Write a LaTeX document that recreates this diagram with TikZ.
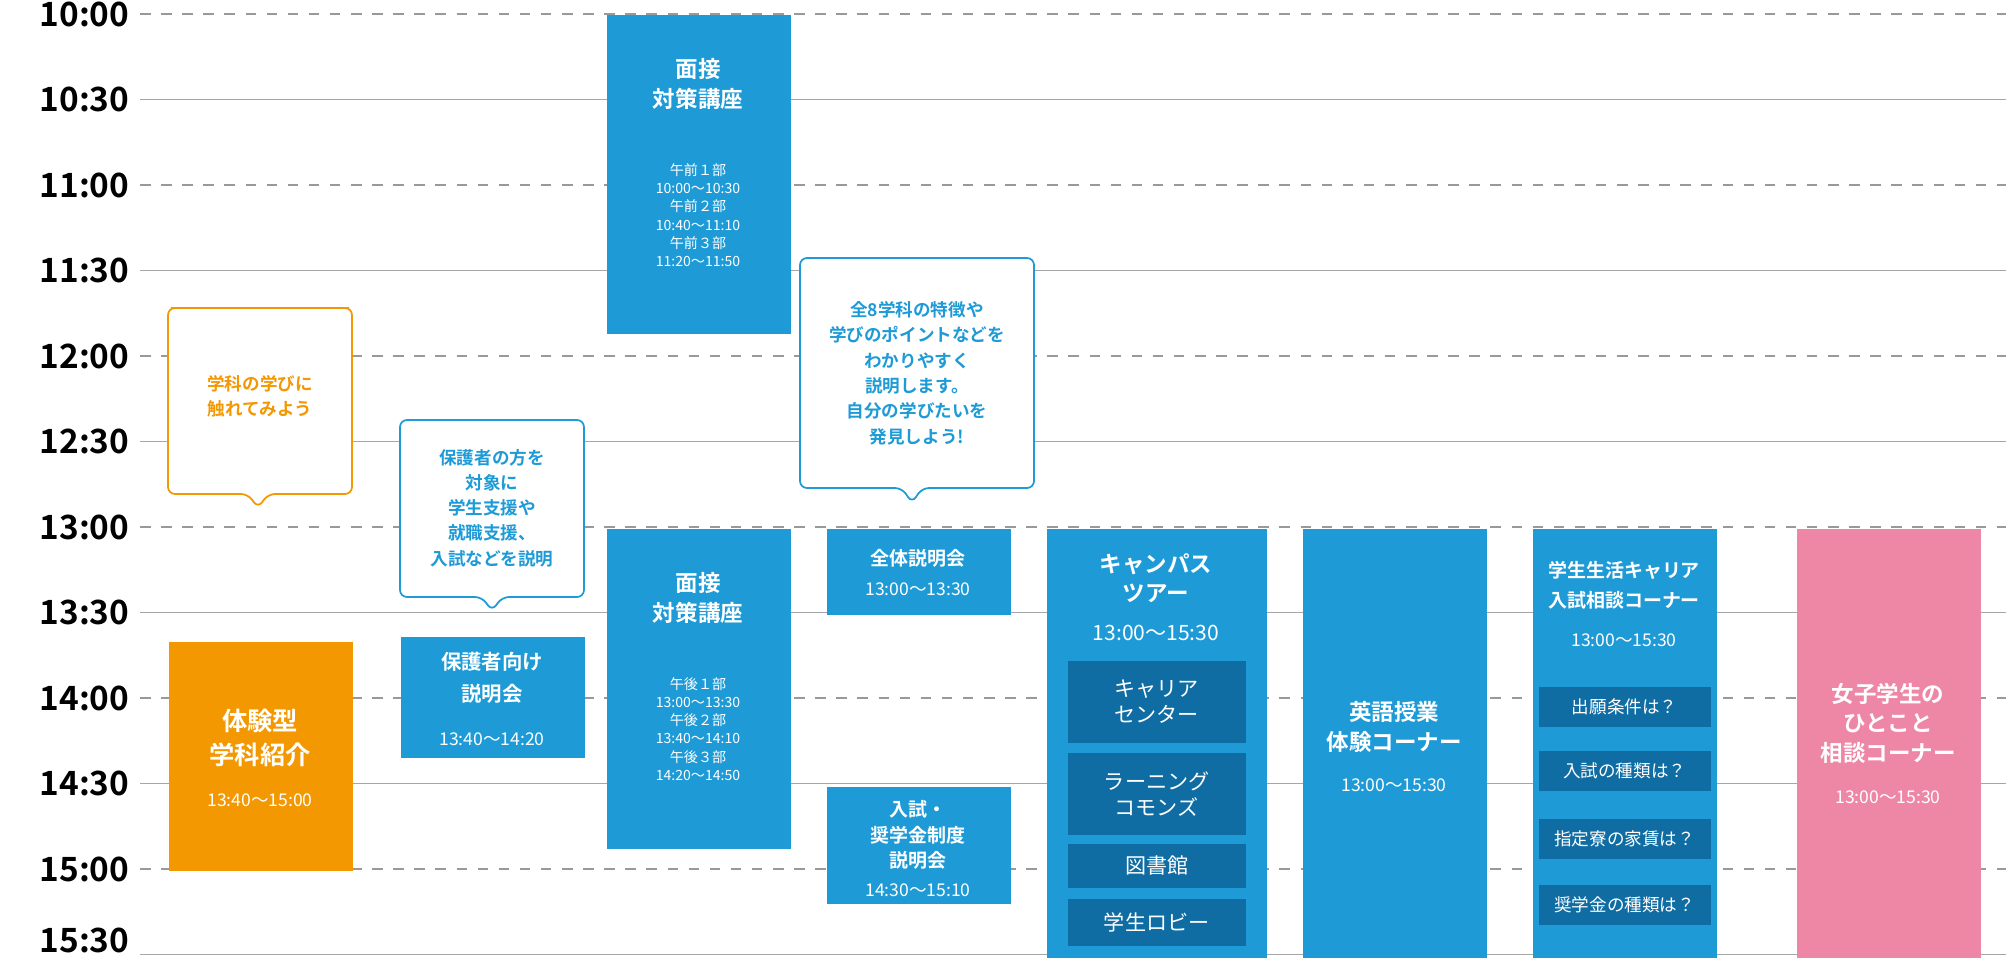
\documentclass[tikz,border=0pt]{standalone}
\usepackage{fontspec}
\setmainfont{Noto Sans CJK JP}[BoldFont=* Bold]
\definecolor{skyb}{HTML}{1E9BD7}
\definecolor{deepb}{HTML}{0F6DA4}
\definecolor{orng}{HTML}{F39800}
\definecolor{pnk}{HTML}{EE87A6}
\begin{document}
\begin{tikzpicture}[x=0.01cm,y=-0.01cm,
  box/.style={inner sep=0pt,anchor=north west},
  ttl/.style={text=white,font=\fontsize{6.4}{8.4}\selectfont\bfseries,align=center,inner sep=0pt},
  tm/.style={text=white,font=\fontsize{5}{6}\selectfont,align=center,inner sep=0pt},
  sm/.style={text=white,font=\fontsize{4}{5.2}\selectfont,align=center,inner sep=0pt},
  sub/.style={fill=deepb,text=white,font=\fontsize{6}{7.4}\selectfont,align=center,inner sep=0pt,anchor=north west},
  hour/.style={anchor=east,font=\fontsize{9.5}{10}\selectfont\bfseries,inner sep=0pt},
  call/.style={fill=white,draw=skyb,line width=0.5pt,rounded corners=2pt},
  ctext/.style={text=skyb,font=\fontsize{5}{7.2}\selectfont\bfseries,align=center,inner sep=0pt}]
\useasboundingbox (0,0) rectangle (2006,957);
% time grid
\foreach \t/\k in {10:00/0,10:30/1,11:00/2,11:30/3,12:00/4,12:30/5,13:00/6,13:30/7,14:00/8,14:30/9,15:00/10,15:30/11}{
  \pgfmathsetmacro\yy{14+85.5*\k}
  \pgfmathsetmacro\ly{min(\yy,940)}
  \node[hour] (h\k) at (130,\ly) {\t};
  \ifodd\k
    \draw[gray!70,line width=0.5pt] (140,\yy) -- (2006,\yy);
  \else
    \draw[gray!80,dashed,line width=0.4pt] (140,\yy) -- (2006,\yy);
  \fi
}
% experience
\node[box,fill=orng,minimum width={184*0.01cm},minimum height={229*0.01cm}] (exp) at (168,641) {};
\node[ttl,font=\fontsize{7.2}{9.6}\selectfont\bfseries] (expt) at (260,738) {体験型\\学科紹介};
\node[tm] (expm) at (260,800) {13:40〜15:00};
\draw[call,draw=orng] (178,308) -- (342,308) -- (352,308) -- (352,494) -- (268,494) -- (258,508) -- (248,494) -- (168,494) -- (168,308) -- cycle;
\node[ctext,text=orng] (c1) at (260,396) {学科の学びに\\触れてみよう};
% parents
\node[box,fill=skyb,minimum width={184*0.01cm},minimum height={121*0.01cm}] (par) at (400,636) {};
\node[ttl,font=\fontsize{5.8}{9}\selectfont\bfseries] (part) at (492,678) {保護者向け\\説明会};
\node[tm] (parm) at (492,739) {13:40〜14:20};
\draw[call] (400,420) -- (584,420) -- (584,597) -- (502,597) -- (492,611) -- (482,597) -- (400,597) -- cycle;
\node[ctext] (c2) at (492,508) {保護者の方を\\対象に\\学生支援や\\就職支援、\\入試などを説明};
% interview
\node[box,fill=skyb,minimum width={184*0.01cm},minimum height={319*0.01cm}] (iva) at (606,14) {};
\node[ttl] (ivat) at (698,84) {面接\\対策講座};
\node[sm] (ivam) at (698,215) {午前１部\\10:00〜10:30\\午前２部\\10:40〜11:10\\午前３部\\11:20〜11:50};
\node[box,fill=skyb,minimum width={184*0.01cm},minimum height={320*0.01cm}] (ivb) at (606,528) {};
\node[ttl] (ivbt) at (698,598) {面接\\対策講座};
\node[sm] (ivbm) at (698,729) {午後１部\\13:00〜13:30\\午後２部\\13:40〜14:10\\午後３部\\14:20〜14:50};
% overview
\draw[call] (800,258) -- (1034,258) -- (1034,488) -- (922,488) -- (912,503) -- (902,488) -- (800,488) -- cycle;
\node[ctext] (c3) at (917,373) {全8学科の特徴や\\学びのポイントなどを\\わかりやすく\\説明します。\\自分の学びたいを\\発見しよう!};
\node[box,fill=skyb,minimum width={184*0.01cm},minimum height={86*0.01cm}] (all) at (826,528) {};
\node[ttl,font=\fontsize{5.4}{7}\selectfont\bfseries] (allt) at (918,558) {全体説明会};
\node[tm] (allm) at (918,589) {13:00〜13:30};
\node[box,fill=skyb,minimum width={184*0.01cm},minimum height={117*0.01cm}] (sch) at (826,786) {};
\node[ttl,font=\fontsize{5.4}{7.2}\selectfont\bfseries] (scht) at (918,835) {入試・\\奨学金制度\\説明会};
\node[tm] (schm) at (918,890) {14:30〜15:10};
% campus tour
\node[box,fill=skyb,minimum width={220*0.01cm},minimum height={429*0.01cm}] (tour) at (1046,528) {};
\node[ttl] (tourt) at (1156,578) {キャンパス\\ツアー};
\node[tm,font=\fontsize{6}{7}\selectfont] (tourm) at (1156,633) {13:00〜15:30};
\node[sub,minimum width={178*0.01cm},minimum height={82*0.01cm}] (t1) at (1067,660) {キャリア\\センター};
\node[sub,minimum width={178*0.01cm},minimum height={82*0.01cm}] (t2) at (1067,752) {ラーニング\\コモンズ};
\node[sub,minimum width={178*0.01cm},minimum height={44*0.01cm}] (t3) at (1067,843) {図書館};
\node[sub,minimum width={178*0.01cm},minimum height={47*0.01cm}] (t4) at (1067,898) {学生ロビー};
% english
\node[box,fill=skyb,minimum width={184*0.01cm},minimum height={429*0.01cm}] (eng) at (1302,528) {};
\node[ttl] (engt) at (1394,727) {英語授業\\体験コーナー};
\node[tm] (engm) at (1394,785) {13:00〜15:30};
% student life
\node[box,fill=skyb,minimum width={184*0.01cm},minimum height={429*0.01cm}] (life) at (1532,528) {};
\node[ttl,font=\fontsize{5.4}{8.4}\selectfont\bfseries] (lifet) at (1624,585) {学生生活キャリア\\入試相談コーナー};
\node[tm] (lifem) at (1624,640) {13:00〜15:30};
\node[sub,font=\fontsize{5}{6}\selectfont,minimum width={172*0.01cm},minimum height={40*0.01cm}] (l1) at (1538,686) {出願条件は？};
\node[sub,font=\fontsize{5}{6}\selectfont,minimum width={172*0.01cm},minimum height={40*0.01cm}] (l2) at (1538,750) {入試の種類は？};
\node[sub,font=\fontsize{5}{6}\selectfont,minimum width={172*0.01cm},minimum height={40*0.01cm}] (l3) at (1538,818) {指定寮の家賃は？};
\node[sub,font=\fontsize{5}{6}\selectfont,minimum width={172*0.01cm},minimum height={40*0.01cm}] (l4) at (1538,884) {奨学金の種類は？};
% women
\node[box,fill=pnk,minimum width={184*0.01cm},minimum height={429*0.01cm}] (wom) at (1796,528) {};
\node[ttl] (womt) at (1888,723) {女子学生の\\ひとこと\\相談コーナー};
\node[tm] (womm) at (1888,797) {13:00〜15:30};
\end{tikzpicture}
\end{document}
